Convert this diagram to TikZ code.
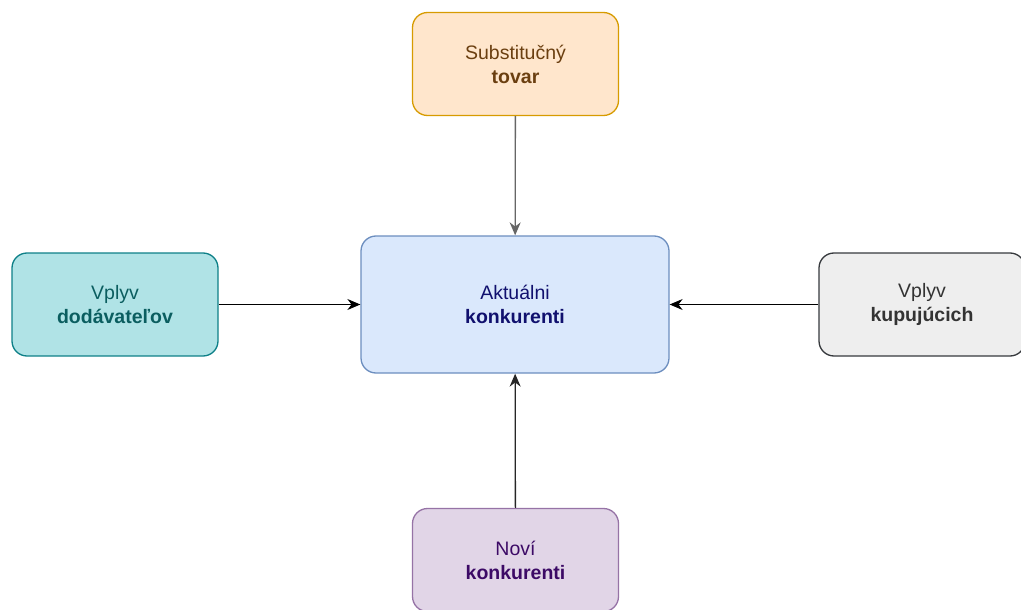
\documentclass[tikz,border=0pt]{standalone}
\usepackage{fontspec}
\setmainfont{Liberation Sans}
\usepackage{xcolor}
\usetikzlibrary{positioning,arrows.meta}

\definecolor{orfill}{HTML}{FFE6CC}\definecolor{ordraw}{HTML}{D79B00}\definecolor{ortext}{HTML}{6B3F10}
\definecolor{blfill}{HTML}{DAE8FC}\definecolor{bldraw}{HTML}{6C8EBF}\definecolor{bltext}{HTML}{10106E}
\definecolor{tefill}{HTML}{B0E3E6}\definecolor{tedraw}{HTML}{0E8088}\definecolor{tetext}{HTML}{0B5E60}
\definecolor{grfill}{HTML}{EEEEEE}\definecolor{grdraw}{HTML}{36393D}\definecolor{grtext}{HTML}{333333}
\definecolor{pufill}{HTML}{E1D5E7}\definecolor{pudraw}{HTML}{9673A6}\definecolor{putext}{HTML}{3C0A66}

\begin{document}
\begin{tikzpicture}[
    x=1pt,y=-1pt,
    box/.style={
      draw,rounded corners=15pt,align=center,line width=1.3pt,
      font=\fontsize{19.5}{24}\selectfont,
      minimum height=103pt,minimum width=206pt,inner sep=0pt},
    arr/.style={-{Stealth[length=13pt,width=11pt]},line width=1.3pt},
    >=Stealth
]
\useasboundingbox (0,0) rectangle (1021,610);

\node[box,fill=blfill,draw=bldraw,text=bltext,minimum width=308pt,minimum height=137pt]
      at (515,304.5) (akt)  {Aktuálni\\\textbf{konkurenti}};
\node[box,fill=orfill,draw=ordraw,text=ortext] at (515.5,64)  (sub)  {Substitučný\\\textbf{tovar}};
\node[box,fill=tefill,draw=tedraw,text=tetext] at (115,304.5) (dod)  {Vplyv\\\textbf{dodávateľov}};
\node[box,fill=grfill,draw=grdraw,text=grtext] at (922,304.5) (kup)  {Vplyv\\\textbf{kupujúcich}};
\node[box,fill=pufill,draw=pudraw,text=putext] at (515.5,560) (nov)  {Noví\\\textbf{konkurenti}};

\draw[arr,black!60] (sub) -- (akt);
\draw[arr,black!85] (nov) -- (akt);
\draw[arr,line width=1pt] (dod) -- (akt);
\draw[arr,line width=1pt] (kup) -- (akt);
\end{tikzpicture}
\end{document}
